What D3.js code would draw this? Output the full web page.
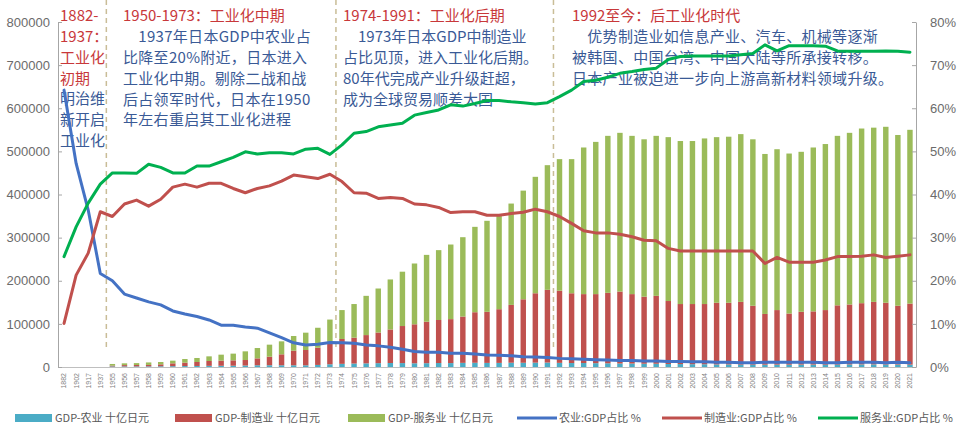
<!DOCTYPE html>
<html><head><meta charset="utf-8">
<script src="https://cdn.jsdelivr.net/npm/d3@7"></script>
<style>body{margin:0;background:#fff;} svg{display:block;}</style>
</head><body><svg id="c" width="960" height="430"></svg>
<script>
const years = ["1882","1902","1917","1937",
"1955","1956","1957","1958","1959","1960","1961","1962","1963","1964",
"1965","1966","1967","1968","1969","1970","1971","1972","1973","1974",
"1975","1976","1977","1978","1979","1980","1981","1982","1983","1984",
"1985","1986","1987","1988","1989","1990","1991","1992","1993","1994",
"1995","1996","1997","1998","1999","2000","2001","2002","2003","2004",
"2005","2006","2007","2008","2009","2010","2011","2012","2013","2014",
"2015","2016","2017","2018","2019","2020","2021"];

const gdpAgri = [null,null,null,null,
1400,1400,1400,1500,1700,1900,2200,2400,2700,2800,
3000,3400,4000,4100,4000,4000,3900,4800,6300,7300,
8000,8400,8900,9300,9100,8600,8800,9200,9100,9600,
9800,9500,9500,9900,9800,10100,10300,9600,9200,9200,
8900,8600,8100,8000,7600,7500,7000,6800,6500,6400,
6000,5900,5600,5500,5400,5500,5400,5600,5600,5400,
5600,6000,6100,6100,5800,5700,5500];

const gdpMfg = [null,null,null,null,
1800,3000,3200,3300,4500,6600,7800,9200,11200,12000,
12400,12800,16000,19800,25400,33800,35500,40000,48600,57700,
60000,65600,71100,77700,85900,90400,96200,99800,101900,107400,
117200,118500,124500,134100,147200,160900,168700,167400,161800,159800,
160100,163400,166900,161000,155400,157500,146000,139200,139500,139600,
143000,143100,145400,136500,117600,126500,118600,122400,123400,126600,
137400,139000,141900,144900,143200,136300,141500];

const gdpSvc = [null,null,null,null,
3800,4100,4400,5800,5400,6200,8500,9300,10800,13800,
15600,20100,24000,27900,30100,34100,40200,46200,55100,67000,
78000,91000,102000,116000,126000,141000,155000,162000,173000,184000,
198000,211000,216000,235000,252000,270000,289000,305000,311000,340000,
353000,364000,368000,367000,365000,371000,380000,378000,378000,384000,
384000,385000,389000,386000,371000,373000,371000,371000,380000,385000,
393000,398000,405000,404000,408000,396000,403000];

const pctAgri = [64.2,47.2,36.4,21.7,
20.0,16.9,16.0,15.1,14.4,13.0,12.3,11.7,10.9,9.7,
9.7,9.3,9.0,7.9,6.8,5.6,5.1,5.3,5.7,5.6,
5.5,5.1,4.9,4.6,4.1,3.6,3.4,3.4,3.2,3.2,
3.0,2.8,2.7,2.6,2.4,2.3,2.2,2.0,1.9,1.8,
1.7,1.6,1.5,1.5,1.4,1.4,1.3,1.3,1.2,1.2,
1.1,1.1,1.0,1.0,1.1,1.1,1.1,1.1,1.1,1.0,
1.0,1.1,1.1,1.1,1.0,1.1,1.0];

const pctMfg = [10.1,21.3,26.4,36.0,
34.9,37.8,38.7,37.3,38.9,41.7,42.4,41.7,42.6,42.6,
41.4,40.4,41.4,42.0,43.1,44.5,44.1,43.7,44.7,43.0,
40.4,40.3,39.1,39.3,39.1,37.8,37.6,37.0,35.8,36.0,
36.0,35.2,35.2,35.6,35.9,36.6,36.0,34.9,33.3,31.6,
31.1,31.1,30.8,30.2,29.4,29.3,27.5,26.9,26.9,26.9,
26.9,26.9,26.9,26.9,24.0,25.4,24.3,24.3,24.3,24.8,
25.6,25.6,25.7,26.0,25.4,25.7,26.0];

const pctSvc = [25.6,32.5,38.0,42.4,
45.0,45.0,44.9,47.0,46.3,45.0,45.0,46.6,46.6,47.6,
48.6,49.9,49.4,49.7,49.7,49.4,50.5,50.7,49.3,51.5,
54.2,54.6,55.7,56.1,56.5,58.4,59.0,59.6,60.8,60.5,
61.1,61.8,61.8,61.5,61.3,61.0,61.3,62.7,64.2,66.2,
66.5,67.2,68.1,68.5,69.0,69.3,71.3,72.0,72.1,72.1,
72.1,72.1,72.4,72.7,74.7,73.3,74.5,74.5,74.5,74.4,
73.3,73.2,73.2,73.2,73.3,73.2,73.0];

const leftTicks = [0,100000,200000,300000,400000,500000,600000,700000,800000];
const rightTicks = [0,10,20,30,40,50,60,70,80];
const phaseStarts = ["1955","1974","1992"];

const seriesNames = ["GDP-农业 十亿日元","GDP-制造业 十亿日元","GDP-服务业 十亿日元","农业:GDP占比 %","制造业:GDP占比 %","服务业:GDP占比 %"];

const anno1Title = ["1882-","1937：","工业化","初期"];
const anno1Body = ["明治维","新开启","工业化"];
const anno2Title = "1950-1973：工业化中期";
const anno2Body = ["　1937年日本GDP中农业占","比降至20%附近，日本进入","工业化中期。剔除二战和战","后占领军时代，日本在1950","年左右重启其工业化进程"];
const anno3Title = "1974-1991：工业化后期";
const anno3Body = ["　1973年日本GDP中制造业","占比见顶，进入工业化后期。","80年代完成产业升级赶超，","成为全球贸易顺差大国"];
const anno4Title = "1992至今：后工业化时代";
const anno4Body = ["　优势制造业如信息产业、汽车、机械等逐渐","被韩国、中国台湾、中国大陆等所承接转移。","日本产业被迫进一步向上游高新材料领域升级。"];

// ---------- drawing ----------
const svg = d3.select("#c");
const C = {agri:"#4BACC6", mfg:"#C0504D", svc:"#9BBB59", lAgri:"#4472C4", lMfg:"#C0504D", lSvc:"#00B050"};
const red = "#C8383A", blue = "#3A5A96";
const cjk = "'Noto Sans CJK SC','Noto Sans',sans-serif";

const x = d3.scaleBand().domain(years).range([58,916]).paddingInner(0.55).paddingOuter(0.275);
const yL = d3.scaleLinear().domain([0,800000]).range([367,22]);
const yR = d3.scaleLinear().domain([0,80]).range([367,22]);
const cx = d => x(d) + x.bandwidth()/2;

const rows = years.map((y,i)=>({year:y, agri:gdpAgri[i]||0, mfg:gdpMfg[i]||0, svc:gdpSvc[i]||0}));
const stack = d3.stack().keys(["agri","mfg","svc"])(rows);

// bars
const bars = svg.append("g");
stack.forEach(layer=>{
  bars.append("g").attr("fill", C[layer.key])
    .selectAll("rect").data(layer.filter(d=>d[1]>d[0])).join("rect")
    .attr("x", d=>x(d.data.year)).attr("width", x.bandwidth())
    .attr("y", d=>yL(d[1])).attr("height", d=>yL(d[0])-yL(d[1]));
});

// x axis
const xa = svg.append("g").attr("transform","translate(0,367)")
  .call(d3.axisBottom(x).tickSizeInner(0).tickSizeOuter(0));
xa.select(".domain").attr("stroke","#BFBFBF");
xa.selectAll("text").attr("font-size",7).attr("fill","#808080")
  .attr("font-family","'Liberation Sans',sans-serif")
  .attr("text-anchor","end").attr("transform","rotate(-90)")
  .attr("x",-6).attr("y",0).attr("dy","0.35em");

// left axis
const la = svg.append("g").attr("transform","translate(58,0)")
  .call(d3.axisLeft(yL).tickValues(leftTicks).tickSizeInner(-4).tickSizeOuter(0).tickPadding(8).tickFormat(d3.format("d")));
// right axis
const ra = svg.append("g").attr("transform","translate(916,0)")
  .call(d3.axisRight(yR).tickValues(rightTicks).tickSizeInner(-4).tickSizeOuter(0).tickPadding(14).tickFormat(d=>d+"%"));
[la,ra].forEach(a=>{
  a.select(".domain").attr("stroke","#A6A6A6");
  a.selectAll(".tick line").attr("stroke","#A6A6A6");
  a.selectAll("text").attr("font-size",13).attr("fill","#6B6B6B").attr("font-family","'Liberation Sans',sans-serif");
});

// phase dashed lines
phaseStarts.forEach(p=>{
  const bx = x(p) - x.step()*x.paddingInner()/2;
  svg.append("line").attr("x1",bx).attr("x2",bx).attr("y1",0).attr("y2",347)
    .attr("stroke","#C9BD97").attr("stroke-width",1.5).attr("stroke-dasharray","5,4");
});

// annotations
function block(x0, yc, lines, color, fs, ls){
  lines.forEach((t,i)=>{
    svg.append("text").attr("x",x0).attr("y",yc + i*20.7).attr("dy","0.36em")
      .attr("font-family",cjk).attr("font-size",fs).attr("fill",color)
      .attr("letter-spacing",ls||0).text(t);
  });
}
block(60, 16, anno1Title, red, 15);
block(60, 16+4*20.7, anno1Body, blue, 15);
block(123, 16, [anno2Title], red, 15);
block(123, 37, anno2Body, blue, 15, 0.3);
block(343, 16, [anno3Title], red, 15);
block(343, 37, anno3Body, blue, 15);
block(572, 16, [anno4Title], red, 15);
block(572, 37, anno4Body, blue, 15, 0.3);

// lines
const line = d3.line().x((d,i)=>cx(years[i])).y(d=>yR(d));
[[pctAgri,C.lAgri],[pctMfg,C.lMfg],[pctSvc,C.lSvc]].forEach(([s,col])=>{
  svg.append("path").datum(s).attr("d",line).attr("fill","none")
    .attr("stroke",col).attr("stroke-width",3).attr("stroke-linejoin","round").attr("stroke-linecap","round");
});

// legend
const lg = svg.append("g").attr("font-family",cjk).attr("font-size",11).attr("fill","#595959");
const legendX = [15,175,348,517,662,818];
const legendCol = [C.agri,C.mfg,C.svc,C.lAgri,C.lMfg,C.lSvc];
seriesNames.forEach((n,i)=>{
  const lx = legendX[i];
  if(i<3){
    lg.append("rect").attr("x",lx).attr("y",414).attr("width",37).attr("height",8).attr("fill",legendCol[i]);
  } else {
    lg.append("line").attr("x1",lx).attr("x2",lx+40).attr("y1",418).attr("y2",418)
      .attr("stroke",legendCol[i]).attr("stroke-width",3);
  }
  lg.append("text").attr("x",lx+(i<3?40:42)).attr("y",418).attr("dy","0.35em").text(n);
});
</script></body></html>
